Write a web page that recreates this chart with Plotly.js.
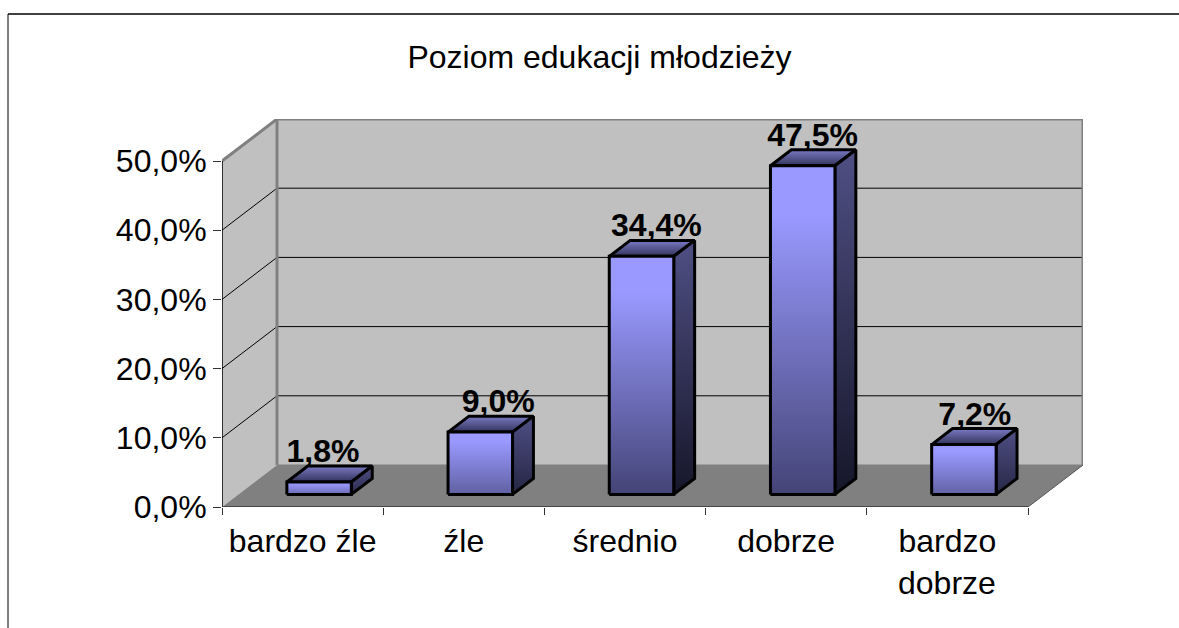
<!DOCTYPE html>
<html lang="pl">
<head>
<meta charset="utf-8">
<title>Poziom edukacji młodzieży</title>
<script src="https://cdn.plot.ly/plotly-3.0.1.min.js"></script>
<style>html,body{margin:0;padding:0;background:#fff;overflow:hidden}#chart{width:1179px;height:628px}</style>
</head>
<body>
<div id="chart"></div>
<script>
// ---- data ----
const chartTitle = 'Poziom edukacji młodzieży';
const categories = ['bardzo źle', 'źle', 'średnio', 'dobrze', 'bardzo'];
const categoryExtraLine = [null, null, null, null, 'dobrze'];
const values = [1.8, 9.0, 34.4, 47.5, 7.2];
const yTicks = [0, 10, 20, 30, 40, 50];

// ---- layout constants ----
const W = 1179, H = 628;
const M = {l: 222, r: 96, t: 119, b: 121};
const plotW = W - M.l - M.r, plotH = H - M.t - M.b;
const pxPerCat = 161.2, pxPerPct = 6.92;
const depthPx = {x: 55, y: 42};
const depthX = depthPx.x / pxPerCat, depthY = depthPx.y / pxPerPct;
const xMin = -0.5, xMax = xMin + plotW / pxPerCat, yMax = plotH / pxPerPct;
const xEnd = categories.length - 0.5, yEnd = yTicks[yTicks.length - 1];
const barHalf = 0.2, dFront = 0.30, dBack = 0.68;
const labelNudgePx = [-6, 8, 5, 0, 1];
const labelDropPx = 4;
const fontSize = 32;
const pct = v => v.toFixed(1).replace('.', ',') + '%';

const P = (x, y, d) => [x + d * depthX, y + d * depthY];
function poly(pts, extra) {
  return Object.assign({
    x: pts.map(p => p ? p[0] : null), y: pts.map(p => p ? p[1] : null),
    type: 'scatter', mode: 'lines', hoverinfo: 'skip', showlegend: false, cliponaxis: false
  }, extra);
}
function solid(pts, fill, lineColor, w) {
  return poly(pts.concat([pts[0]]), {fill: 'toself', fillcolor: fill, line: {color: lineColor, width: w}});
}
function grad(pts, low, high, yLow, yHigh, hold) {
  return poly(pts.concat([pts[0]]), {
    fill: 'toself',
    fillgradient: {type: 'vertical', start: yLow, stop: yHigh,
      colorscale: hold ? [[0, low], [hold, high], [1, high]] : [[0, low], [1, high]]},
    line: {color: '#000000', width: 3}
  });
}
function lerp(a, b, t) {
  const h = s => [1, 3, 5].map(i => parseInt(s.substr(i, 2), 16));
  const A = h(a), B = h(b);
  return 'rgb(' + A.map((v, i) => Math.round(v + (B[i] - v) * t)).join(',') + ')';
}

const traces = [];
// walls and floor
traces.push(solid([P(xMin, 0, 1), P(xEnd, 0, 1), P(xEnd, yEnd, 1), P(xMin, yEnd, 1)], '#c0c0c0', '#c0c0c0', 0));
traces.push(solid([P(xMin, 0, 0), P(xMin, 0, 1), P(xMin, yEnd, 1), P(xMin, yEnd, 0)], '#c0c0c0', '#c0c0c0', 0));
traces.push(solid([P(xMin, 0, 0), P(xEnd, 0, 0), P(xEnd, 0, 1), P(xMin, 0, 1)], '#808080', '#808080', 0));
// grid
const gridPts = [];
yTicks.filter(t => t > 0 && t < yEnd).forEach(t => {
  gridPts.push(P(xMin, t, 0), P(xMin, t, 1), P(xEnd, t, 1), null);
});
traces.push(poly(gridPts, {line: {color: '#000000', width: 1}}));
// wall edges
traces.push(poly([P(xMin, yEnd, 0), P(xMin, yEnd, 1), P(xEnd, yEnd, 1), P(xEnd, 0, 1)], {line: {color: '#808080', width: 3}}));
traces.push(poly([P(xMin, 0, 1), P(xMin, yEnd, 1)], {line: {color: '#808080', width: 3}}));
traces.push(poly([P(xMin, 0, 1), P(xEnd, 0, 1)], {line: {color: '#808080', width: 1}}));
traces.push(poly([P(xEnd, 0, 0), P(xEnd, 0, 1)], {line: {color: '#555555', width: 1}}));
// axes
traces.push(poly([P(xMin, 0, 0), P(xMin, yEnd, 0)], {line: {color: '#000000', width: 1.5}}));
traces.push(poly([P(xMin, 0, 0), P(xEnd, 0, 0)], {line: {color: '#333333', width: 1.5}}));
// bars
values.forEach((v, i) => {
  const a = i - barHalf, b = i + barHalf;
  const t = Math.min(1, v / 30);
  const frontLow = lerp('#6c6cb4', '#444477', t);
  const sideLow = lerp('#2c2c50', '#16162a', t);
  traces.push(grad([P(a, v, dFront), P(b, v, dFront), P(b, v, dBack), P(a, v, dBack)],
    '#33335c', '#7a7ac4', P(a, v, dFront)[1], P(a, v, dBack)[1]));
  traces.push(grad([P(b, 0, dFront), P(b, 0, dBack), P(b, v, dBack), P(b, v, dFront)],
    sideLow, '#4f4f84', P(b, 0, dFront)[1], P(b, v, dBack)[1]));
  traces.push(grad([P(a, 0, dFront), P(b, 0, dFront), P(b, v, dFront), P(a, v, dFront)],
    frontLow, '#9999ff', P(a, 0, dFront)[1], P(a, v, dFront)[1], 0.85));
});
// data labels
traces.push({
  type: 'scatter', mode: 'text', cliponaxis: false, hoverinfo: 'skip', showlegend: false,
  x: values.map((v, i) => P(i, v, dBack)[0] - 0.068 + labelNudgePx[i] / pxPerCat),
  y: values.map(v => P(0, v, dBack)[1] - labelDropPx / pxPerPct),
  text: values.map(pct),
  textposition: 'top center',
  textfont: {family: 'Liberation Sans, Arial, sans-serif', size: fontSize, color: '#000000', weight: 700}
});

const font = {family: 'Liberation Sans, Arial, sans-serif', color: '#000000'};
const layout = {
  width: W, height: H, margin: M,
  paper_bgcolor: '#ffffff', plot_bgcolor: '#ffffff',
  showlegend: false, hovermode: false,
  font: font,
  title: {text: chartTitle, font: {family: font.family, size: fontSize, color: '#000000'},
    xref: 'container', yref: 'container', x: 599.5 / W, y: 1 - 57 / H, xanchor: 'center', yanchor: 'middle'},
  xaxis: {
    type: 'linear', range: [xMin, xMax], fixedrange: true, showgrid: false, zeroline: false, showline: false,
    tickmode: 'array', tickvals: categories.map((_, i) => i), ticktext: categories,
    ticks: 'outside', ticklen: 6, tickcolor: 'rgba(0,0,0,0)', tickfont: {family: font.family, size: fontSize, color: '#000000'},
    minor: {tickmode: 'array', tickvals: categories.map((_, i) => i - 0.5).concat([xEnd]),
      ticks: 'outside', ticklen: 7, tickwidth: 1, tickcolor: '#333333', showgrid: false}
  },
  yaxis: {
    type: 'linear', range: [0, yMax], fixedrange: true, showgrid: false, zeroline: false, showline: false,
    tickmode: 'array', tickvals: yTicks, ticktext: yTicks.map(pct),
    ticks: 'outside', ticklen: 8, tickwidth: 1, tickcolor: '#333333',
    tickfont: {family: font.family, size: fontSize, color: '#000000'}
  },
  annotations: categoryExtraLine.map((s, i) => s ? {
    text: s, x: i, xref: 'x', y: -76 / plotH, yref: 'paper', yanchor: 'middle', xanchor: 'center', showarrow: false,
    font: {family: font.family, size: fontSize, color: '#000000'}
  } : null).filter(Boolean),
  shapes: [
    {type: 'line', xref: 'paper', yref: 'paper', x0: (8 - M.l) / plotW, x1: (W - M.l) / plotW,
      y0: (H - M.b - 14) / plotH, y1: (H - M.b - 14) / plotH, line: {color: '#404040', width: 2}},
    {type: 'line', xref: 'paper', yref: 'paper', x0: (8 - M.l) / plotW, x1: (8 - M.l) / plotW,
      y0: (H - M.b - 14) / plotH, y1: (H - M.b - H) / plotH, line: {color: '#000000', width: 1}}
  ]
};
Plotly.newPlot('chart', traces, layout, {displayModeBar: false, staticPlot: true});
</script>
</body>
</html>
